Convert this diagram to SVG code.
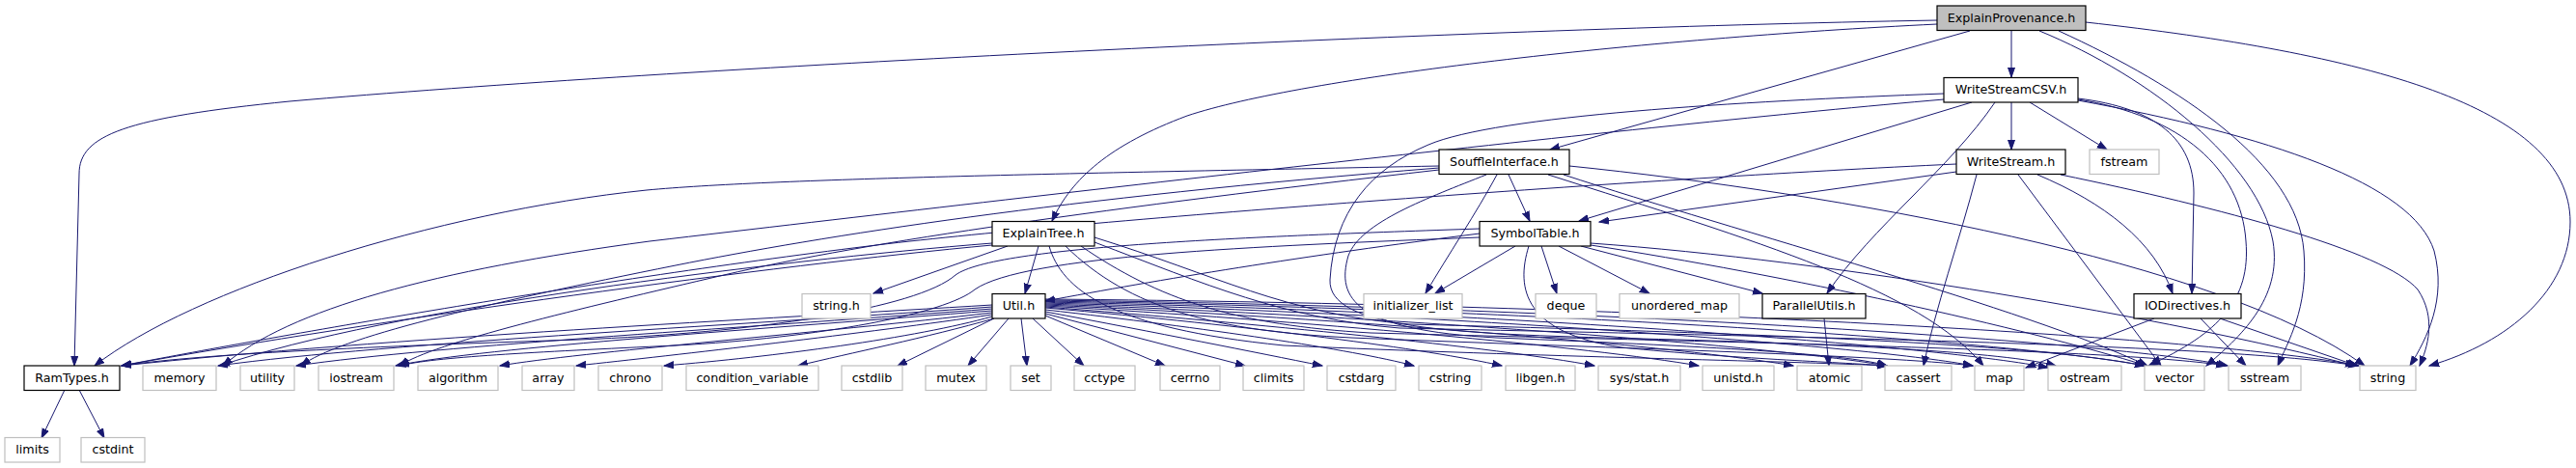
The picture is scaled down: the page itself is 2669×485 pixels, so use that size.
<svg xmlns="http://www.w3.org/2000/svg" width="2669" height="485" viewBox="0 0 2669 485">
<style>
.bg{fill:#fff}
.nd rect{fill:#fff;stroke:#000;stroke-width:1.2}
.sd rect{fill:#fff;stroke:#bfbfbf;stroke-width:1.2}
#n-ExplainProvenance rect{fill:#bfbfbf}
text{font-family:"DejaVu Sans","Liberation Sans",sans-serif;font-size:12.7px;text-anchor:middle;fill:#000}
#edges path{fill:none;stroke:#191970;stroke-width:1;marker-end:url(#ah)}
</style>
<defs>
<marker id="ah" markerUnits="userSpaceOnUse" markerWidth="11" markerHeight="9" refX="10" refY="4" orient="auto">
<path d="M0,0.5 L10,4 L0,7.5 Z" fill="#191970" stroke="#191970" stroke-width="1"/>
</marker>
</defs>
<rect class="bg" x="0" y="0" width="2669" height="485"/>
<g id="edges">
<path d="M2007,21 C1500,30 700,70 300,105 C130,122 82,140 82,180 L77,379"/>
<path d="M2007,25 C1700,40 1350,80 1230,120 C1150,150 1110,185 1090,229"/>
<path d="M2041,32 L1606,155"/>
<path d="M2084,32 L2084,80"/>
<path d="M2113,32 C2230,80 2340,170 2355,250 C2365,310 2320,350 2286,379"/>
<path d="M2133,32 C2260,90 2380,170 2387,260 C2392,320 2370,355 2360,379"/>
<path d="M2161,23 C2450,55 2663,110 2663,230 C2663,300 2600,355 2517,379"/>
<path d="M2084,106 L2084,155"/>
<path d="M2103,106 L2183,155"/>
<path d="M2043,106 L1636,229"/>
<path d="M2067,106 C2020,175 1940,235 1893,304"/>
<path d="M2153,102 C2235,112 2273,145 2273,200 L2271,304"/>
<path d="M2153,103 C2260,120 2322,175 2327,250 C2332,310 2300,345 2226,379"/>
<path d="M2153,104 C2350,140 2500,190 2522,260 C2535,310 2515,350 2497,379"/>
<path d="M2014,103 C1700,130 1100,200 673,250 C450,280 300,320 231,379"/>
<path d="M2014,97 C1800,105 1550,120 1480,150 C1420,175 1382,220 1378,290 C1376,340 1500,346 1700,351 C1900,356 2080,365 2130,379"/>
<path d="M2027,178 L1657,230"/>
<path d="M2027,170 C1700,185 1100,230 900,255 C600,292 250,355 126,379"/>
<path d="M2048,181 C2030,250 2005,320 1993,379"/>
<path d="M2091,181 L2239,379"/>
<path d="M2111,181 C2180,210 2232,250 2251,304"/>
<path d="M2135,181 C2300,215 2470,260 2505,300 C2525,330 2515,360 2507,379"/>
<path d="M1563,181 L1585,229"/>
<path d="M1551,181 C1530,220 1500,265 1477,304"/>
<path d="M1491,172 C1100,180 800,185 670,197 C450,220 200,300 98,379"/>
<path d="M1491,174 C1100,205 850,245 700,275 C500,315 350,350 312,379"/>
<path d="M1491,176 C1150,215 900,250 750,285 C600,320 450,355 414,379"/>
<path d="M1604,181 C1820,250 1990,300 2055,379"/>
<path d="M1620,181 C1800,240 2100,320 2225,379"/>
<path d="M1626,172 C1900,200 2300,270 2450,379"/>
<path d="M1540,181 C1480,205 1410,230 1397,265 C1384,310 1405,342 1550,350 C1800,360 1920,368 1955,379"/>
<path d="M1570,255 L1487,304"/>
<path d="M1597,255 L1613,304"/>
<path d="M1615,255 L1709,304"/>
<path d="M1638,255 L1826,304"/>
<path d="M1648,252 C1900,270 2250,330 2440,379"/>
<path d="M1648,254 C1850,285 2100,340 2224,379"/>
<path d="M1584,255 C1570,300 1580,345 1680,360 C1800,372 1900,375 1955,379"/>
<path d="M1533,242 C1350,265 1200,290 1083,312"/>
<path d="M1533,237 C1300,245 1030,255 990,285 C950,320 780,345 600,352 C350,360 200,368 126,379"/>
<path d="M1533,246 C1300,255 1060,265 1010,300 C980,325 850,350 700,358 C550,365 450,370 414,379"/>
<path d="M1076,255 L1062,304"/>
<path d="M1044,255 L905,304"/>
<path d="M1028,252 C800,270 400,320 228,379"/>
<path d="M1028,254 C800,275 400,330 126,379"/>
<path d="M1087,255 C1100,300 1150,340 1330,358 C1600,370 1850,374 1955,379"/>
<path d="M1104,255 C1170,320 1260,343 1400,350 C1700,362 1950,368 2044,379"/>
<path d="M1120,255 C1200,310 1280,337 1420,345 C1800,355 2200,362 2306,379"/>
<path d="M1134,251 C1250,295 1330,330 1450,340 C1900,350 2300,357 2443,379"/>
<path d="M1134,246 C1260,285 1330,325 1460,336 C1800,345 2100,355 2222,379"/>
<path d="M1028,316 C800,330 400,350 126,379"/>
<path d="M1028,318 C800,335 400,355 226,379"/>
<path d="M1028,320 C800,338 450,358 307,379"/>
<path d="M1028,322 C800,340 500,360 410,379"/>
<path d="M1028,324 C850,345 600,365 518,379"/>
<path d="M1028,326 C900,345 700,368 597,379"/>
<path d="M1028,328 C950,350 800,370 688,379"/>
<path d="M1030,330 C960,350 880,366 827,379"/>
<path d="M1030,330 L930,379"/>
<path d="M1045,330 L1003,379"/>
<path d="M1058,330 L1064,379"/>
<path d="M1070,330 L1123,379"/>
<path d="M1083,327 L1207,379"/>
<path d="M1083,325 L1290,379"/>
<path d="M1083,323 C1200,345 1300,365 1370,379"/>
<path d="M1083,321 C1250,340 1400,362 1465,379"/>
<path d="M1083,319 C1300,338 1480,362 1556,379"/>
<path d="M1083,318 C1300,335 1550,360 1652,379"/>
<path d="M1083,317 C1350,332 1650,360 1760,379"/>
<path d="M1083,316 C1400,330 1750,360 1858,379"/>
<path d="M1083,315 C1450,328 1850,360 1955,379"/>
<path d="M1083,314 C1500,325 1950,360 2044,379"/>
<path d="M1083,313 C1550,322 2020,360 2122,381"/>
<path d="M1083,312 C1600,320 2100,355 2222,379"/>
<path d="M1083,311 C1650,318 2200,355 2308,379"/>
<path d="M1083,310 C1700,315 2300,350 2444,379"/>
<path d="M2232,330 L2099,381"/>
<path d="M2280,330 L2327,379"/>
<path d="M2300,330 L2442,379"/>
<path d="M1890,330 L1895,379"/>
<path d="M67,404 L43,454"/>
<path d="M82,404 L108,454"/>
</g>
<g id="n-ExplainProvenance" class="nd"><rect x="2007" y="6" width="154" height="25.5"/><text x="2084" y="22.5">ExplainProvenance.h</text></g>
<g id="n-WriteStreamCSV" class="nd"><rect x="2014" y="80.5" width="139" height="25.5"/><text x="2083.5" y="97">WriteStreamCSV.h</text></g>
<g id="n-SouffleInterface" class="nd"><rect x="1491" y="155" width="135" height="25.5"/><text x="1558.5" y="171.5">SouffleInterface.h</text></g>
<g id="n-WriteStream" class="nd"><rect x="2027" y="155" width="113" height="25.5"/><text x="2083.5" y="171.5">WriteStream.h</text></g>
<g id="n-fstream" class="sd"><rect x="2165" y="155" width="72" height="25.5"/><text x="2201" y="171.5">fstream</text></g>
<g id="n-ExplainTree" class="nd"><rect x="1028" y="229.5" width="106" height="25.5"/><text x="1081" y="246">ExplainTree.h</text></g>
<g id="n-SymbolTable" class="nd"><rect x="1533" y="229.5" width="115" height="25.5"/><text x="1590.5" y="246">SymbolTable.h</text></g>
<g id="n-string_h" class="sd"><rect x="831" y="304.5" width="71" height="25.5"/><text x="866.5" y="321">string.h</text></g>
<g id="n-Util" class="nd"><rect x="1028" y="304.5" width="55" height="25.5"/><text x="1055.5" y="321">Util.h</text></g>
<g id="n-initializer_list" class="sd"><rect x="1413" y="304.5" width="102" height="25.5"/><text x="1464" y="321">initializer_list</text></g>
<g id="n-deque" class="sd"><rect x="1591" y="304.5" width="63" height="25.5"/><text x="1622.5" y="321">deque</text></g>
<g id="n-unordered_map" class="sd"><rect x="1678" y="304.5" width="124" height="25.5"/><text x="1740" y="321">unordered_map</text></g>
<g id="n-ParallelUtils" class="nd"><rect x="1826" y="304.5" width="107" height="25.5"/><text x="1879.5" y="321">ParallelUtils.h</text></g>
<g id="n-IODirectives" class="nd"><rect x="2211" y="304.5" width="111" height="25.5"/><text x="2266.5" y="321">IODirectives.h</text></g>
<g id="n-RamTypes" class="nd"><rect x="25" y="379" width="99" height="25.5"/><text x="74.5" y="395.5">RamTypes.h</text></g>
<g id="n-memory" class="sd"><rect x="148" y="379" width="76" height="25.5"/><text x="186" y="395.5">memory</text></g>
<g id="n-utility" class="sd"><rect x="249" y="379" width="56" height="25.5"/><text x="277" y="395.5">utility</text></g>
<g id="n-iostream" class="sd"><rect x="330" y="379" width="78" height="25.5"/><text x="369" y="395.5">iostream</text></g>
<g id="n-algorithm" class="sd"><rect x="433" y="379" width="83" height="25.5"/><text x="474.5" y="395.5">algorithm</text></g>
<g id="n-array" class="sd"><rect x="541" y="379" width="54" height="25.5"/><text x="568" y="395.5">array</text></g>
<g id="n-chrono" class="sd"><rect x="620" y="379" width="66" height="25.5"/><text x="653" y="395.5">chrono</text></g>
<g id="n-condition_variable" class="sd"><rect x="711" y="379" width="137" height="25.5"/><text x="779.5" y="395.5">condition_variable</text></g>
<g id="n-cstdlib" class="sd"><rect x="872" y="379" width="63" height="25.5"/><text x="903.5" y="395.5">cstdlib</text></g>
<g id="n-mutex" class="sd"><rect x="959" y="379" width="63" height="25.5"/><text x="990.5" y="395.5">mutex</text></g>
<g id="n-set" class="sd"><rect x="1047" y="379" width="42" height="25.5"/><text x="1068" y="395.5">set</text></g>
<g id="n-cctype" class="sd"><rect x="1113" y="379" width="63" height="25.5"/><text x="1144.5" y="395.5">cctype</text></g>
<g id="n-cerrno" class="sd"><rect x="1202" y="379" width="62" height="25.5"/><text x="1233" y="395.5">cerrno</text></g>
<g id="n-climits" class="sd"><rect x="1288" y="379" width="63" height="25.5"/><text x="1319.5" y="395.5">climits</text></g>
<g id="n-cstdarg" class="sd"><rect x="1375" y="379" width="71" height="25.5"/><text x="1410.5" y="395.5">cstdarg</text></g>
<g id="n-cstring" class="sd"><rect x="1470" y="379" width="65" height="25.5"/><text x="1502.5" y="395.5">cstring</text></g>
<g id="n-libgen" class="sd"><rect x="1560" y="379" width="72" height="25.5"/><text x="1596" y="395.5">libgen.h</text></g>
<g id="n-sys_stat" class="sd"><rect x="1656" y="379" width="85" height="25.5"/><text x="1698.5" y="395.5">sys/stat.h</text></g>
<g id="n-unistd" class="sd"><rect x="1764" y="379" width="74" height="25.5"/><text x="1801" y="395.5">unistd.h</text></g>
<g id="n-atomic" class="sd"><rect x="1862" y="379" width="67" height="25.5"/><text x="1895.5" y="395.5">atomic</text></g>
<g id="n-cassert" class="sd"><rect x="1953" y="379" width="69" height="25.5"/><text x="1987.5" y="395.5">cassert</text></g>
<g id="n-map" class="sd"><rect x="2046" y="379" width="51" height="25.5"/><text x="2071.5" y="395.5">map</text></g>
<g id="n-ostream" class="sd"><rect x="2122" y="379" width="76" height="25.5"/><text x="2160" y="395.5">ostream</text></g>
<g id="n-vector" class="sd"><rect x="2222" y="379" width="62" height="25.5"/><text x="2253" y="395.5">vector</text></g>
<g id="n-sstream" class="sd"><rect x="2309" y="379" width="75" height="25.5"/><text x="2346.5" y="395.5">sstream</text></g>
<g id="n-string" class="sd"><rect x="2445" y="379" width="58" height="25.5"/><text x="2474" y="395.5">string</text></g>
<g id="n-limits" class="sd"><rect x="5" y="453.5" width="57" height="25.5"/><text x="33.5" y="470">limits</text></g>
<g id="n-cstdint" class="sd"><rect x="84" y="453.5" width="66" height="25.5"/><text x="117" y="470">cstdint</text></g>
</svg>
